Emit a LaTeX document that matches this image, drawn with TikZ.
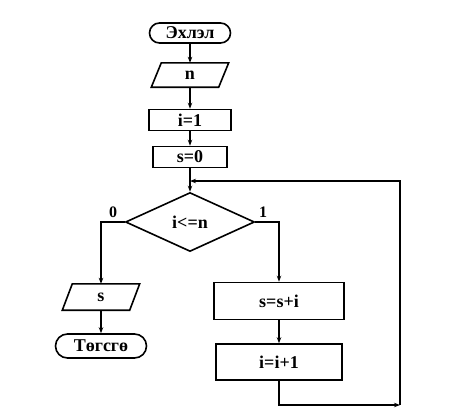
\documentclass[tikz,border=0pt]{standalone}
\usepackage{fontspec}
\setmainfont{Liberation Serif}
\usetikzlibrary{shapes.geometric,arrows.meta}
\begin{document}
\begin{tikzpicture}[x=1pt,y=-1pt,
  ln/.style={line width=1.6pt},
  arr/.style={ln,-{Stealth[length=6pt,width=4.5pt]}},
  txt/.style={font=\fontsize{18}{20}\selectfont\bfseries},
  term/.style={ln,draw,txt,rounded corners=10pt,inner sep=0pt},
  proc/.style={ln,draw,txt,rectangle,inner sep=0pt},
  io/.style={txt,inner sep=0pt},
  dec/.style={ln,draw,txt,diamond,inner sep=0pt,minimum width=129pt,minimum height=59pt},
  lbl/.style={font=\fontsize{16}{18}\selectfont\bfseries}]
\useasboundingbox (0,0) rectangle (456,416);
\node[term,minimum width=81pt,minimum height=20pt] (start) at (190,33) {Эхлэл};
\node[io,minimum width=67pt,minimum height=24pt] (n) at (190,75) {n};
\node[proc,minimum width=82pt,minimum height=21pt] (i1) at (190,120) {i=1};
\node[proc,minimum width=74pt,minimum height=21pt] (s0) at (190,157) {s=0};
\coordinate (join) at (190,181);
\node[dec] (d) at (190,222) {i<=n};
\node[io,minimum width=67pt,minimum height=26pt] (sio) at (101,297) {s};
\node[term,minimum width=91pt,minimum height=24pt,rounded corners=12pt] (end) at (101,346) {Төгсгө};
\node[proc,minimum width=130pt,minimum height=37pt] (ssi) at (279,301) {s=s+i};
\node[proc,minimum width=126pt,minimum height=36pt] (ii1) at (279,362) {i=i+1};
\coordinate (c1) at (400,405);
\node[lbl] (l0) at (113,212) {0};
\node[lbl] (l1) at (263,212) {1};
% parallelograms
\draw[ln] ([xshift=5pt]n.north west) -- ([xshift=5pt]n.north east) -- ([xshift=-5pt]n.south east) -- ([xshift=-5pt]n.south west) -- cycle;
\draw[ln] ([xshift=5pt]sio.north west) -- ([xshift=5pt]sio.north east) -- ([xshift=-5pt]sio.south east) -- ([xshift=-5pt]sio.south west) -- cycle;
% connectors
\draw[arr] (start) -- (n);
\draw[arr] (n) -- (i1);
\draw[arr] (i1) -- (s0);
\draw[ln] (s0) -- (join);
\draw[arr] (join) -- (d);
\draw[arr] (d.west) -| (sio.north);
\draw[arr] (sio) -- (end);
\draw[arr] (d.east) -| (ssi.north);
\draw[arr] (ssi) -- (ii1);
\draw[arr] (ii1) |- (c1);
\draw[arr] (c1) |- (join);
\end{tikzpicture}
\end{document}
